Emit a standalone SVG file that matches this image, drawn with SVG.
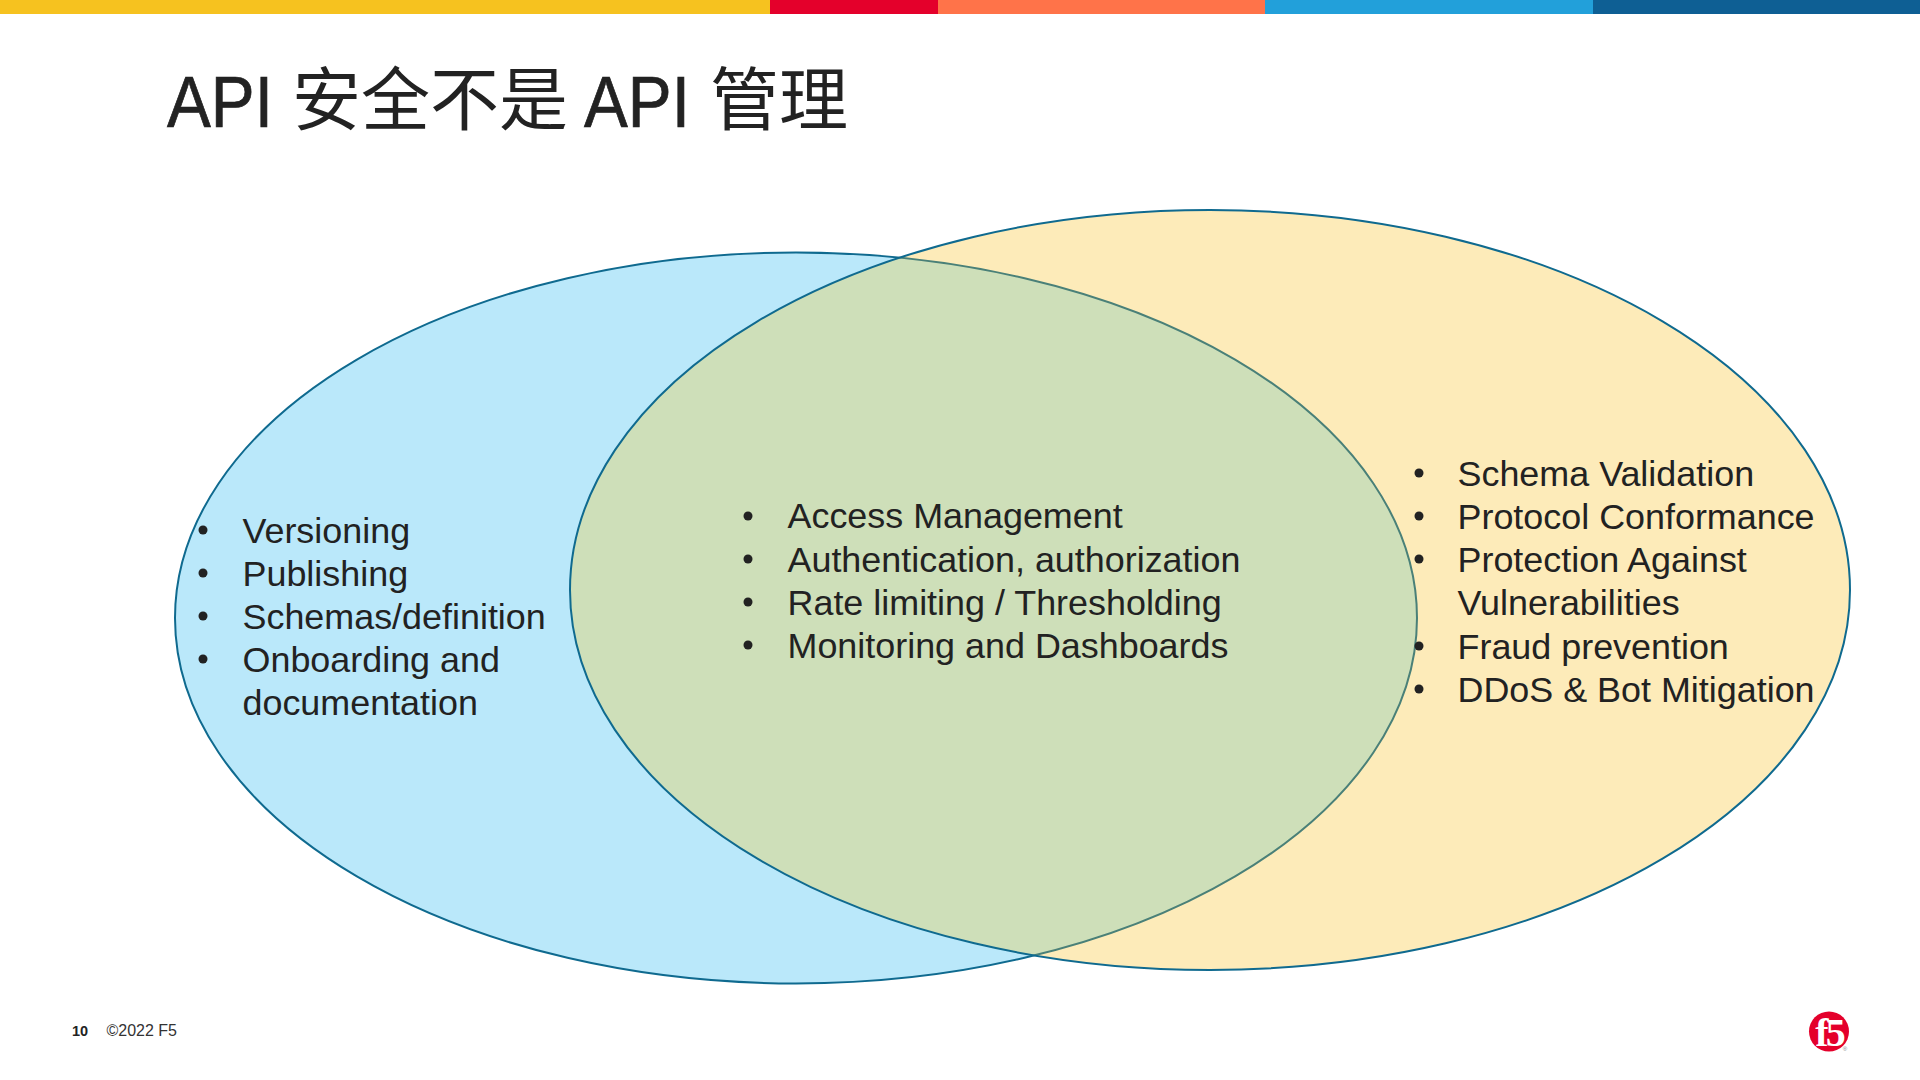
<svg xmlns="http://www.w3.org/2000/svg" width="1920" height="1080" viewBox="0 0 1920 1080">
<defs>
<clipPath id="in-yellow"><ellipse cx="1210" cy="590" rx="640" ry="380"/></clipPath>
</defs>
<style>
.t{font-family:"Liberation Sans",Arial,sans-serif;font-size:35.9px;fill:#222}
.b{fill:#222}
.title{font-family:"Liberation Sans","Noto Sans CJK SC",sans-serif;fill:#222}
.lat{stroke:#222;stroke-width:.7}
.e{stroke:#0f6a8f;stroke-width:2}
</style>
<rect width="1920" height="1080" fill="#fff"/>
<g id="top-bar">
<rect x="0" y="0" width="770" height="14" fill="#f6c21f"/>
<rect x="770" y="0" width="168" height="14" fill="#e4002b"/>
<rect x="938" y="0" width="327" height="14" fill="#ff7349"/>
<rect x="1265" y="0" width="328" height="14" fill="#22a0da"/>
<rect x="1593" y="0" width="327" height="14" fill="#0e5f94"/>
</g>
<g id="title">
<text class="title lat" x="167" y="127" font-size="73" textLength="106" lengthAdjust="spacingAndGlyphs">API</text>
<text class="title" x="292" y="125" font-size="69" textLength="276">安全不是</text>
<text class="title lat" x="584" y="127" font-size="73" textLength="106" lengthAdjust="spacingAndGlyphs">API</text>
<text class="title" x="710" y="125" font-size="69" textLength="138">管理</text>
</g>
<g id="api-management-ellipse">
<ellipse class="e" cx="796" cy="618" rx="621" ry="365.5" fill="#bae8fa"/>
</g>
<g id="api-security-ellipse">
<ellipse cx="1210" cy="590" rx="640" ry="380" fill="#fdebb9"/>
<g clip-path="url(#in-yellow)">
<ellipse cx="796" cy="618" rx="621" ry="365.5" fill="#cedfb9" stroke="#4a8078" stroke-width="2"/>
</g>
<ellipse cx="1210" cy="590" rx="640" ry="380" fill="none" class="e"/>
</g>
<g id="api-management-list">
<circle class="b" cx="203" cy="530" r="4.5"/><text class="t" x="242.5" y="542.5">Versioning</text>
<circle class="b" cx="203" cy="573" r="4.5"/><text class="t" x="242.5" y="585.5">Publishing</text>
<circle class="b" cx="203" cy="616" r="4.5"/><text class="t" x="242.5" y="628.5">Schemas/definition</text>
<circle class="b" cx="203" cy="659" r="4.5"/><text class="t" x="242.5" y="671.5">Onboarding and</text>
<text class="t" x="242.5" y="714.5">documentation</text>
</g>
<g id="shared-list">
<circle class="b" cx="748" cy="516" r="4.5"/><text class="t" x="787.5" y="528">Access Management</text>
<circle class="b" cx="748" cy="559" r="4.5"/><text class="t" x="787.5" y="571.5">Authentication, authorization</text>
<circle class="b" cx="748" cy="602" r="4.5"/><text class="t" x="787.5" y="614.5">Rate limiting / Thresholding</text>
<circle class="b" cx="748" cy="645" r="4.5"/><text class="t" x="787.5" y="657.5">Monitoring and Dashboards</text>
</g>
<g id="api-security-list">
<circle class="b" cx="1419" cy="473" r="4.5"/><text class="t" x="1457.5" y="486">Schema Validation</text>
<circle class="b" cx="1419" cy="516" r="4.5"/><text class="t" x="1457.5" y="529">Protocol Conformance</text>
<circle class="b" cx="1419" cy="559" r="4.5"/><text class="t" x="1457.5" y="572">Protection Against</text>
<text class="t" x="1457.5" y="615">Vulnerabilities</text>
<circle class="b" cx="1419" cy="646" r="4.5"/><text class="t" x="1457.5" y="658.5">Fraud prevention</text>
<circle class="b" cx="1419" cy="689" r="4.5"/><text class="t" x="1457.5" y="701.5">DDoS &amp; Bot Mitigation</text>
</g>
<g id="footer">
<text x="72" y="1035.5" font-family="Liberation Sans,Arial,sans-serif" font-size="14.5" font-weight="700" fill="#222">10</text>
<text x="106.5" y="1035.5" font-family="Liberation Sans,Arial,sans-serif" font-size="16" fill="#333">©2022 F5</text>
</g>
<g id="f5-logo">
<circle cx="1829" cy="1031.5" r="20" fill="#e4002b"/>
<text x="1829" y="1046" text-anchor="middle" font-family="Liberation Serif,serif" font-weight="700" font-size="40" letter-spacing="-3" fill="#fff">f5</text>
<text x="1845" y="1051" text-anchor="middle" font-family="Liberation Sans,sans-serif" font-size="6" fill="#888">®</text>
</g>
</svg>
